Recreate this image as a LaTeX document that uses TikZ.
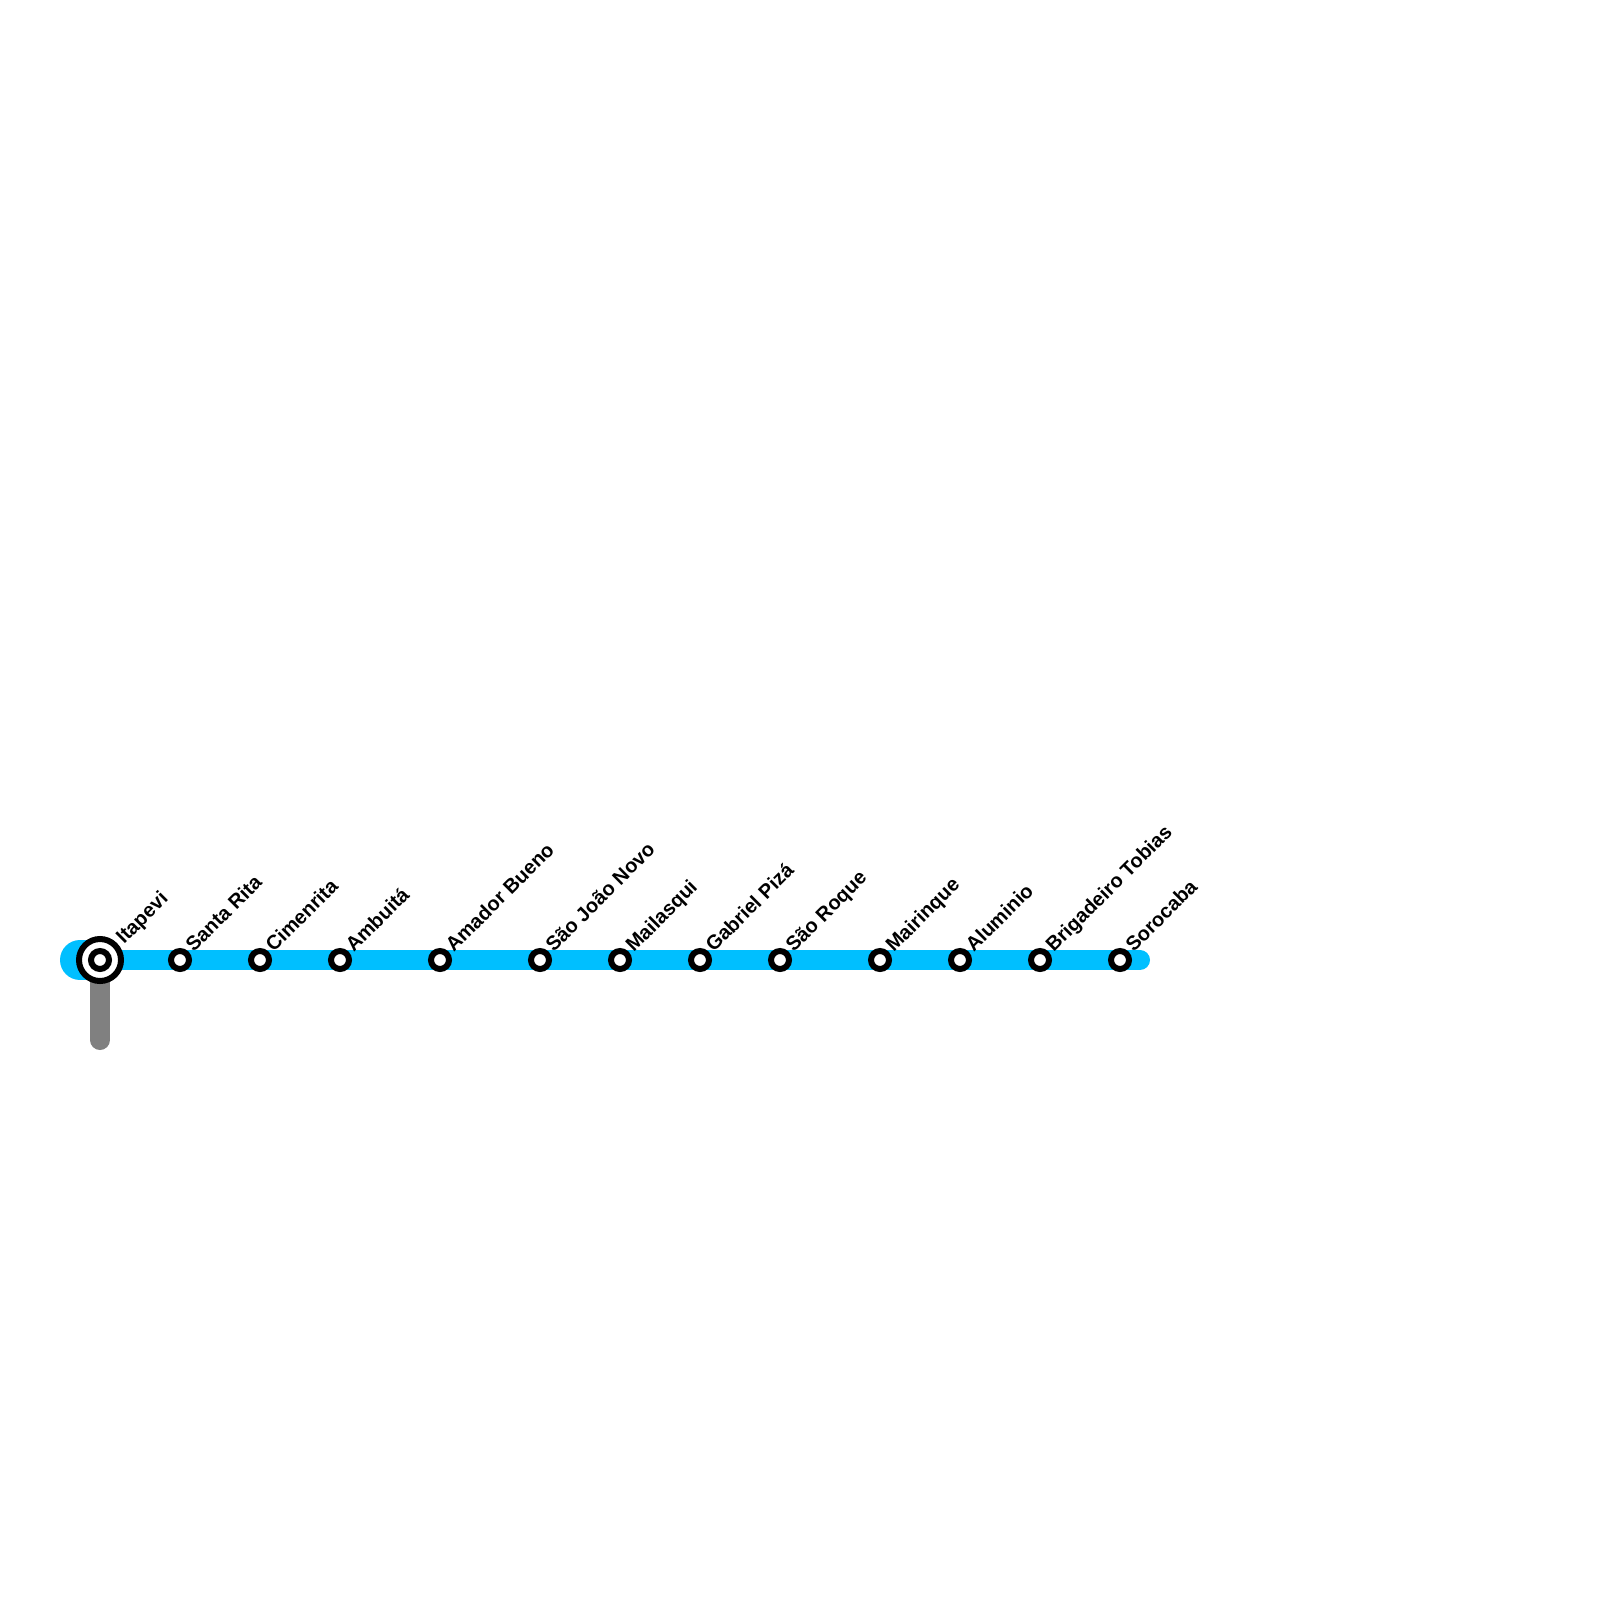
\documentclass[tikz,border=0pt]{standalone}
\usepackage{fontspec}
\setmainfont{Liberation Sans}
\tikzset{
  line/.style={line width=20pt,line cap=round},
  stop/.style={circle,draw=black,fill=white,line width=6pt,minimum size=18pt,inner sep=0pt,outer sep=0pt},
  bigstop/.style={circle,draw=black,fill=white,line width=6pt,minimum size=42pt,inner sep=0pt,outer sep=0pt},
  lab/.style={font=\fontsize{20}{20}\selectfont\bfseries,rotate=45,anchor=base west,inner sep=0pt,text=black},
}
\definecolor{skyline}{HTML}{00BFFF}
\definecolor{greyline}{HTML}{808080}
\begin{document}
\begin{tikzpicture}[x=1pt,y=-1pt]
\useasboundingbox (0,0) rectangle (1600,1600);
\coordinate (blobL) at (80,960);
\coordinate (hub) at (100,960);
\coordinate (lineEnd) at (1140,960);
\coordinate (greyEnd) at (100,1040);
\draw[line,greyline] (hub) -- (greyEnd);
\draw[line,skyline,line width=40pt] (blobL) -- (hub);
\draw[line,skyline] (hub) -- (lineEnd);
\node[bigstop] (s0) at (hub) {};
\node[stop] (s0i) at (hub) {};
\foreach \n/\x/\t in {1/180/Santa Rita,2/260/Cimenrita,3/340/Ambuitá,4/440/Amador Bueno,5/540/São João Novo,6/620/Mailasqui,7/700/Gabriel Pizá,8/780/São Roque,9/880/Mairinque,10/960/Aluminio,11/1040/Brigadeiro Tobias,12/1120/Sorocaba}{
  \node[stop] (s\n) at (\x,960) {};
  \node[lab] (t\n) at (\x+13.8,953) {\t};
}
\node[lab] (t0) at (124,945) {Itapevi};
\end{tikzpicture}
\end{document}
